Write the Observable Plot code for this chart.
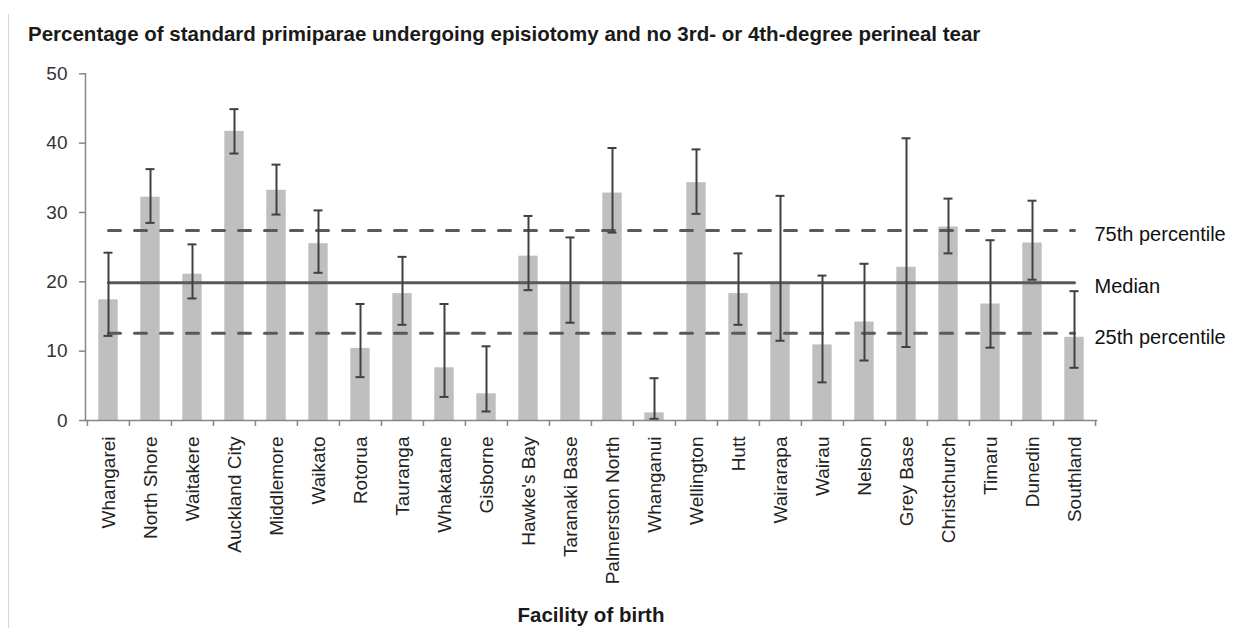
<!DOCTYPE html>
<html>
<head>
<meta charset="utf-8">
<script src="https://cdn.jsdelivr.net/npm/d3@7"></script>
<script src="https://cdn.jsdelivr.net/npm/@observablehq/plot@0.6"></script>
<style>
  html, body { margin: 0; padding: 0; background: #fff; }
  #wrap { position: relative; width: 1245px; height: 628px; overflow: hidden; font-family: "Liberation Sans", Arial, sans-serif; }
  #edge { position: absolute; left: 8px; top: 14px; bottom: 0; width: 1px; background: #d6d6d6; }
  #title { position: absolute; left: 28px; top: 24px; font-size: 20.5px; line-height: 1; font-weight: bold; color: #1a1a1a; white-space: nowrap; }
  #chart { position: absolute; left: 0; top: 0; }
</style>
</head>
<body>
<div id="wrap">
  <div id="edge"></div>
  <div id="chart"></div>
  <div id="title">Percentage of standard primiparae undergoing episiotomy and no 3rd- or 4th-degree perineal tear</div>
</div>
<script>
const facilities = ["Whangarei","North Shore","Waitakere","Auckland City","Middlemore","Waikato","Rotorua","Tauranga","Whakatane","Gisborne","Hawke's Bay","Taranaki Base","Palmerston North","Whanganui","Wellington","Hutt","Wairarapa","Wairau","Nelson","Grey Base","Christchurch","Timaru","Dunedin","Southland"];
const rates = [17.4, 32.2, 21.1, 41.7, 33.2, 25.5, 10.4, 18.3, 7.6, 3.85, 23.7, 19.6, 32.8, 1.1, 34.3, 18.3, 19.6, 10.9, 14.2, 22.1, 27.9, 16.8, 25.6, 12.0];
const lower = [12.2, 28.5, 17.6, 38.5, 29.7, 21.3, 6.25, 13.8, 3.4, 1.3, 18.8, 14.1, 27.1, 0.24, 29.8, 13.8, 11.5, 5.5, 8.65, 10.6, 24.1, 10.5, 20.3, 7.6];
const upper = [24.2, 36.25, 25.4, 44.9, 36.9, 30.3, 16.8, 23.6, 16.8, 10.7, 29.5, 26.4, 39.3, 6.1, 39.1, 24.1, 32.4, 20.9, 22.6, 40.7, 32.0, 26.0, 31.7, 18.65];
const yTicks = [0, 10, 20, 30, 40, 50];
const refLabels = ["75th percentile", "Median", "25th percentile"];
const refValues = [27.4, 19.85, 12.6];
const xTitle = "Facility of birth";

const data = facilities.map((f, i) => ({facility: f, rate: rates[i], lo: lower[i], hi: upper[i]}));
const refs = refLabels.map((l, i) => ({label: l, value: refValues[i]}));
const last = facilities[facilities.length - 1];

const W = 1245, H = 628, ML = 85, MR = 149, MT = 73.3, MB = 208;
const step = (W - ML - MR) / facilities.length;

const refLine = (v, dash) => Plot.lineY(facilities, {x: d => d, y: () => v, stroke: "#595959", strokeWidth: 3, strokeDasharray: dash});

const chart = Plot.plot({
  width: W, height: H,
  marginLeft: ML, marginRight: MR, marginTop: MT, marginBottom: MB,
  style: {fontFamily: "'Liberation Sans', Arial, sans-serif", background: "transparent"},
  x: {domain: facilities, padding: 0, label: null},
  y: {domain: [0, 50], label: null},
  marks: [
    Plot.barY(data, {x: "facility", y: "rate", fill: "#bfbfbf", insetLeft: 11.3, insetRight: 11.3}),
    refLine(refValues[0], "12,14"),
    refLine(refValues[2], "12,14"),
    refLine(refValues[1], null),
    Plot.ruleX(data, {x: "facility", y1: "lo", y2: "hi", stroke: "#404040", strokeWidth: 2}),
    Plot.tickY(data, {x: "facility", y: "lo", stroke: "#404040", strokeWidth: 2, insetLeft: 16.5, insetRight: 16.5}),
    Plot.tickY(data, {x: "facility", y: "hi", stroke: "#404040", strokeWidth: 2, insetLeft: 16.5, insetRight: 16.5}),
    Plot.frame({anchor: "left", stroke: "#868686", strokeWidth: 1.5}),
    Plot.frame({anchor: "bottom", stroke: "#868686", strokeWidth: 1.5}),
    Plot.ruleX(facilities, {x: d => d, y1: 0, y2: 0, insetBottom: -6, dx: -step / 2, stroke: "#868686", strokeWidth: 1.5}),
    Plot.ruleX([last], {x: d => d, y1: 0, y2: 0, insetBottom: -6, dx: step / 2, stroke: "#868686", strokeWidth: 1.5}),
    Plot.axisY({ticks: yTicks, tickSize: 6, tickPadding: 12, fontSize: 19, stroke: "#868686", strokeWidth: 1.5, fill: "#333", tickFormat: d => d}),
    Plot.axisX({tickSize: 0, tickPadding: 16, tickRotate: -90, fontSize: 19, fill: "#222"}),
    Plot.text(refs, {x: () => last, y: "value", text: "label", dx: 20, dy: 4, textAnchor: "start", fontSize: 20, fill: "#111"}),
    Plot.text([xTitle], {text: d => d, frameAnchor: "bottom", dy: MB - 7, fontSize: 20.5, fontWeight: "bold", fill: "#1a1a1a"})
  ]
});
document.getElementById("chart").appendChild(chart);
</script>
</body>
</html>
